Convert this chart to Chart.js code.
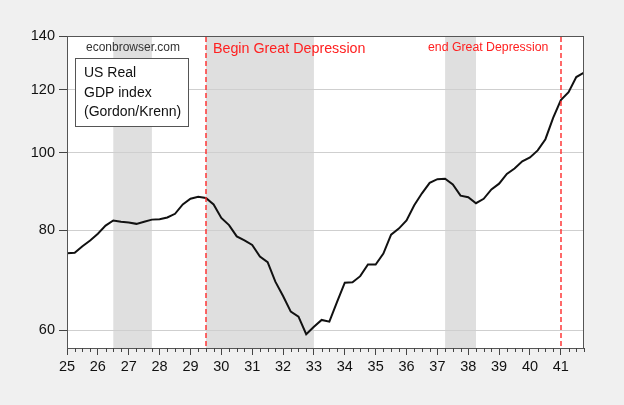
<!DOCTYPE html>
<html><head><meta charset="utf-8">
<script src="https://cdn.jsdelivr.net/npm/chart.js@4"></script>
<style>html,body{margin:0;padding:0;background:#f0f0f0;}#wrap{width:624px;height:405px;}</style>
</head><body><div id="wrap"><canvas id="c" width="624" height="405"></canvas></div>
<script>
const startYear = 1925; // first quarter 1925Q1, quarterly through 1941Q4
const gdp = [74.9,75.0,76.4,77.7,79.2,81.1,82.3,82.0,81.8,81.5,82.0,82.5,82.6,83.0,83.9,86.2,
  87.6,88.1,87.8,86.2,82.9,81.2,78.6,77.7,76.7,74.2,73.0,69.0,66.2,63.3,62.4,59.3,
  60.6,61.8,61.5,65.1,68.8,68.9,70.1,72.5,72.5,74.8,79.0,80.4,82.3,86.0,89.0,91.7,
  92.7,92.8,91.3,88.4,88.0,86.5,87.6,90.0,91.5,94.1,95.6,97.6,98.7,100.7,104.0,110.6,
  116.4,119.1,124.4,126.0];
const yTicks = [60,80,100,120,140];
const xTickYears = [1925,1926,1927,1928,1929,1930,1931,1932,1933,1934,1935,1936,1937,1938,1939,1940,1941];
const recessionStart = [1926.5,1929.5,1937.25];
const recessionEnd = [1927.75,1933.0,1938.25];
const markerYears = [1929.5,1941.0];
const markerLabels = ['Begin Great Depression','end Great Depression'];
const legendLines = ['US Real','GDP index','(Gordon/Krenn)'];
const sourceLabel = 'econbrowser.com';

const points = gdp.map((v,i)=>({x:startYear+i*0.25, y:v}));
const FONT = '"Liberation Sans", Arial, sans-serif';

const decor = {
  id:'decor',
  beforeDraw(chart){
    const {ctx, chartArea:a, scales:{x}} = chart;
    ctx.save();
    ctx.fillStyle='#ffffff';
    ctx.fillRect(a.left,a.top,a.right-a.left,a.bottom-a.top);
    ctx.fillStyle='#dfdfdf';
    recessionStart.forEach((s,i)=>{
      const x0=x.getPixelForValue(s), x1=x.getPixelForValue(recessionEnd[i]);
      ctx.fillRect(x0,a.top,x1-x0,a.bottom-a.top);
    });
    ctx.restore();
  },
  afterDatasetsDraw(chart){
    const {ctx, chartArea:a, scales:{x}} = chart;
    ctx.save();
    ctx.strokeStyle='#ff2a2a'; ctx.lineWidth=1.4; ctx.setLineDash([5,3]);
    markerYears.forEach(m=>{
      const px=Math.round(x.getPixelForValue(m));
      ctx.beginPath(); ctx.moveTo(px,a.top+1); ctx.lineTo(px,a.bottom); ctx.stroke();
    });
    ctx.setLineDash([]);
    // frame
    ctx.strokeStyle='#555'; ctx.lineWidth=1;
    ctx.strokeRect(Math.round(a.left)+0.5,Math.round(a.top)+0.5,Math.round(a.right-a.left)-1,Math.round(a.bottom-a.top));
    // minor quarter ticks
    ctx.strokeStyle='#444';
    for(let q=startYear; q<=1941.75+1e-9; q+=0.25){
      if(Math.abs(q-Math.round(q))<1e-6) continue;
      const px=Math.round(x.getPixelForValue(q))+0.5;
      ctx.beginPath(); ctx.moveTo(px,a.bottom); ctx.lineTo(px,a.bottom+4); ctx.stroke();
    }
    // texts
    ctx.textBaseline='middle';
    ctx.fillStyle='#333'; ctx.font='12px '+FONT; ctx.textAlign='center';
    ctx.fillText(sourceLabel,133,48);
    ctx.fillStyle='#ff2020'; ctx.textAlign='left';
    ctx.font='14.3px '+FONT;
    ctx.fillText(markerLabels[0], x.getPixelForValue(markerYears[0])+7, 49.5);
    ctx.font='12.3px '+FONT;
    ctx.fillText(markerLabels[1], 428, 47.5);
    // legend box
    ctx.fillStyle='#fff'; ctx.fillRect(75,58,114,69);
    ctx.strokeStyle='#555'; ctx.strokeRect(75.5,58.5,113,68);
    ctx.fillStyle='#111'; ctx.font='14px '+FONT;
    legendLines.forEach((t,i)=>ctx.fillText(t,84,73.5+i*19.2));
    ctx.restore();
  }
};

new Chart(document.getElementById('c'),{
  type:'line',
  data:{datasets:[{data:points,borderColor:'#111',borderWidth:2,pointRadius:0,tension:0,fill:false}]},
  options:{
    responsive:false, animation:false,
    layout:{padding:{top:36,right:40,left:0,bottom:0}},
    plugins:{legend:{display:false},tooltip:{enabled:false}},
    scales:{
      x:{type:'linear',min:1925,max:1941.75,
        afterBuildTicks(s){s.ticks=xTickYears.map(v=>({value:v}));},
        afterFit(s){s.height=57;},
        ticks:{autoSkip:false,maxRotation:0,padding:3,color:'#111',font:{family:FONT,size:14.5},
          callback:v=>String(v).slice(2)},
        grid:{drawOnChartArea:false,tickLength:7,tickColor:'#444'},
        border:{color:'#444'}},
      y:{type:'logarithmic',min:57,max:140,
        afterBuildTicks(s){s.ticks=yTicks.map(v=>({value:v}));},
        afterFit(s){s.width=67;},
        ticks:{padding:4,color:'#111',font:{family:FONT,size:14.5},callback:v=>String(v)},
        grid:{color:'#cfcfcf',tickLength:8,tickColor:'#444'},
        border:{color:'#444'}}
    }
  },
  plugins:[decor]
});
</script></body></html>
